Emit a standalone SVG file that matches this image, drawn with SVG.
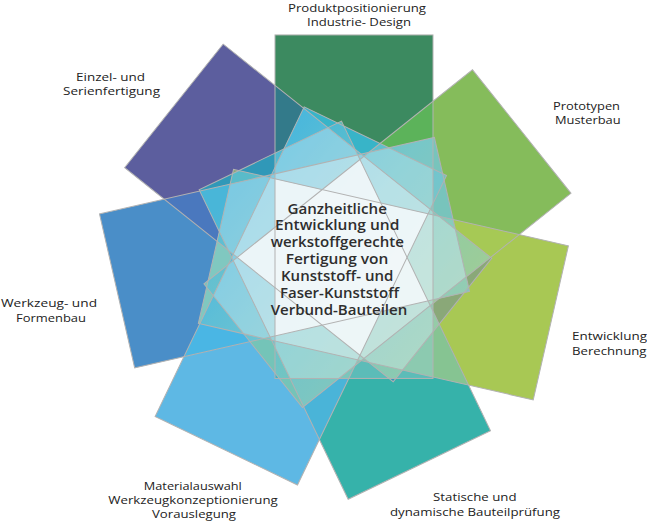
<svg xmlns="http://www.w3.org/2000/svg" width="647" height="521" viewBox="0 0 647 521">
<style>
.lbl{font-family:"Open Sans","Liberation Sans",sans-serif;font-size:11.5px;fill:#222;text-anchor:middle;}
.ctr{font-family:"Open Sans","Liberation Sans",sans-serif;font-size:13.5px;font-weight:600;fill:#2e2e2e;text-anchor:middle;}
.u{fill:#f4f9fb;}
.m{fill:#ffffff;}
.edge{fill:none;stroke:#b2b2b2;stroke-width:1;}
</style>
<defs>
<linearGradient id="hue" gradientUnits="userSpaceOnUse" x1="250" y1="170" x2="440" y2="330">
<stop offset="0" stop-color="#4ab8dc"/>
<stop offset="0.45" stop-color="#78c8cc"/>
<stop offset="1" stop-color="#9ccfae"/>
</linearGradient>
<rect id="r0" x="-62.6" y="-222.45" width="158" height="343.5" transform="translate(337.6 257.4)"/>
<rect id="r1" x="-62.6" y="-222.45" width="158" height="343.5" transform="translate(337.6 257.4) rotate(51.4286)"/>
<rect id="r2" x="-62.6" y="-222.45" width="158" height="343.5" transform="translate(337.6 257.4) rotate(102.8571)"/>
<rect id="r3" x="-62.6" y="-222.45" width="158" height="343.5" transform="translate(337.6 257.4) rotate(154.2857)"/>
<rect id="r4" x="-62.6" y="-222.45" width="158" height="343.5" transform="translate(337.6 257.4) rotate(205.7143)"/>
<rect id="r5" x="-62.6" y="-222.45" width="158" height="343.5" transform="translate(337.6 257.4) rotate(257.1429)"/>
<rect id="r6" x="-62.6" y="-222.45" width="158" height="343.5" transform="translate(337.6 257.4) rotate(308.5714)"/>
<clipPath id="c0"><use href="#r0"/></clipPath>
<clipPath id="c1"><use href="#r1"/></clipPath>
<clipPath id="c2"><use href="#r2"/></clipPath>
<clipPath id="c3"><use href="#r3"/></clipPath>
<clipPath id="c4"><use href="#r4"/></clipPath>
<clipPath id="c5"><use href="#r5"/></clipPath>
<clipPath id="c6"><use href="#r6"/></clipPath>
<mask id="m3" maskUnits="userSpaceOnUse" x="0" y="0" width="647" height="521">
<g clip-path="url(#c0)"><use href="#r2" class="m" clip-path="url(#c1)"/></g>
<g clip-path="url(#c0)"><use href="#r3" class="m" clip-path="url(#c1)"/></g>
<g clip-path="url(#c0)"><use href="#r4" class="m" clip-path="url(#c1)"/></g>
<g clip-path="url(#c0)"><use href="#r5" class="m" clip-path="url(#c1)"/></g>
<g clip-path="url(#c0)"><use href="#r6" class="m" clip-path="url(#c1)"/></g>
<g clip-path="url(#c0)"><use href="#r3" class="m" clip-path="url(#c2)"/></g>
<g clip-path="url(#c0)"><use href="#r4" class="m" clip-path="url(#c2)"/></g>
<g clip-path="url(#c0)"><use href="#r5" class="m" clip-path="url(#c2)"/></g>
<g clip-path="url(#c0)"><use href="#r6" class="m" clip-path="url(#c2)"/></g>
<g clip-path="url(#c0)"><use href="#r4" class="m" clip-path="url(#c3)"/></g>
<g clip-path="url(#c0)"><use href="#r5" class="m" clip-path="url(#c3)"/></g>
<g clip-path="url(#c0)"><use href="#r6" class="m" clip-path="url(#c3)"/></g>
<g clip-path="url(#c0)"><use href="#r5" class="m" clip-path="url(#c4)"/></g>
<g clip-path="url(#c0)"><use href="#r6" class="m" clip-path="url(#c4)"/></g>
<g clip-path="url(#c0)"><use href="#r6" class="m" clip-path="url(#c5)"/></g>
<g clip-path="url(#c1)"><use href="#r3" class="m" clip-path="url(#c2)"/></g>
<g clip-path="url(#c1)"><use href="#r4" class="m" clip-path="url(#c2)"/></g>
<g clip-path="url(#c1)"><use href="#r5" class="m" clip-path="url(#c2)"/></g>
<g clip-path="url(#c1)"><use href="#r6" class="m" clip-path="url(#c2)"/></g>
<g clip-path="url(#c1)"><use href="#r4" class="m" clip-path="url(#c3)"/></g>
<g clip-path="url(#c1)"><use href="#r5" class="m" clip-path="url(#c3)"/></g>
<g clip-path="url(#c1)"><use href="#r6" class="m" clip-path="url(#c3)"/></g>
<g clip-path="url(#c1)"><use href="#r5" class="m" clip-path="url(#c4)"/></g>
<g clip-path="url(#c1)"><use href="#r6" class="m" clip-path="url(#c4)"/></g>
<g clip-path="url(#c1)"><use href="#r6" class="m" clip-path="url(#c5)"/></g>
<g clip-path="url(#c2)"><use href="#r4" class="m" clip-path="url(#c3)"/></g>
<g clip-path="url(#c2)"><use href="#r5" class="m" clip-path="url(#c3)"/></g>
<g clip-path="url(#c2)"><use href="#r6" class="m" clip-path="url(#c3)"/></g>
<g clip-path="url(#c2)"><use href="#r5" class="m" clip-path="url(#c4)"/></g>
<g clip-path="url(#c2)"><use href="#r6" class="m" clip-path="url(#c4)"/></g>
<g clip-path="url(#c2)"><use href="#r6" class="m" clip-path="url(#c5)"/></g>
<g clip-path="url(#c3)"><use href="#r5" class="m" clip-path="url(#c4)"/></g>
<g clip-path="url(#c3)"><use href="#r6" class="m" clip-path="url(#c4)"/></g>
<g clip-path="url(#c3)"><use href="#r6" class="m" clip-path="url(#c5)"/></g>
<g clip-path="url(#c4)"><use href="#r6" class="m" clip-path="url(#c5)"/></g>
</mask>
</defs>
<rect width="647" height="521" fill="#ffffff"/>

<g id="n-produkt"><use href="#r0" fill="#3c8a60"/>
<text class="lbl" x="357" y="11.5" textLength="138" lengthAdjust="spacingAndGlyphs">Produktpositionierung</text>
<text class="lbl" x="359" y="25.5" textLength="104" lengthAdjust="spacingAndGlyphs">Industrie- Design</text></g>
<g id="n-prototypen"><use href="#r1" fill="#85bc5b"/>
<text class="lbl" x="586.5" y="109.5" textLength="67" lengthAdjust="spacingAndGlyphs">Prototypen</text>
<text class="lbl" x="587.8" y="123.5" textLength="65.6" lengthAdjust="spacingAndGlyphs">Musterbau</text></g>
<g id="n-entwicklung"><use href="#r2" fill="#a8c854"/>
<text class="lbl" x="572" y="340" textLength="75" lengthAdjust="spacingAndGlyphs" style="text-anchor:start">Entwicklung</text>
<text class="lbl" x="572" y="354.5" textLength="74.5" lengthAdjust="spacingAndGlyphs" style="text-anchor:start">Berechnung</text></g>
<g id="n-statische"><use href="#r3" fill="#36b2aa"/>
<text class="lbl" x="474.8" y="501" textLength="83.5" lengthAdjust="spacingAndGlyphs">Statische und</text>
<text class="lbl" x="475" y="515.5" textLength="170" lengthAdjust="spacingAndGlyphs">dynamische Bauteilprüfung</text></g>
<g id="n-material"><use href="#r4" fill="#5eb8e4"/>
<text class="lbl" x="192.8" y="489.5" textLength="98" lengthAdjust="spacingAndGlyphs">Materialauswahl</text>
<text class="lbl" x="193" y="504" textLength="169.5" lengthAdjust="spacingAndGlyphs">Werkzeugkonzeptionierung</text>
<text class="lbl" x="194" y="518" textLength="84" lengthAdjust="spacingAndGlyphs">Vorauslegung</text></g>
<g id="n-werkzeug"><use href="#r5" fill="#4a8ec8"/>
<text class="lbl" x="49" y="307" textLength="96" lengthAdjust="spacingAndGlyphs">Werkzeug- und</text>
<text class="lbl" x="51" y="321.5" textLength="70" lengthAdjust="spacingAndGlyphs">Formenbau</text></g>
<g id="n-einzel"><use href="#r6" fill="#5c5e9e"/>
<text class="lbl" x="110.5" y="80.5" textLength="69" lengthAdjust="spacingAndGlyphs">Einzel- und</text>
<text class="lbl" x="111.5" y="95" textLength="97" lengthAdjust="spacingAndGlyphs">Serienfertigung</text></g>

<g id="overlaps">
<g clip-path="url(#c0)"><use href="#r6" fill="#337a8a"/></g>
<g clip-path="url(#c5)"><use href="#r6" fill="#4a78be"/></g>
<g clip-path="url(#c2)"><use href="#r6" fill="#8aa878"/></g>
<g clip-path="url(#c1)"><use href="#r6" fill="#6cbcc0"/></g>
<g clip-path="url(#c0)"><use href="#r1" fill="#5cb35a"/></g>
<g clip-path="url(#c1)"><use href="#r2" fill="#a6c955"/></g>
<g clip-path="url(#c3)"><use href="#r6" fill="#3098b8"/></g>
<g clip-path="url(#c0)"><use href="#r2" fill="#6cc0a8"/></g>
<g clip-path="url(#c0)"><use href="#r5" fill="#48b0d0"/></g>
<g clip-path="url(#c2)"><use href="#r3" fill="#86c492"/></g>
<g clip-path="url(#c1)"><use href="#r3" fill="#62bea8"/></g>
<g clip-path="url(#c2)"><use href="#r4" fill="#7cc8b4"/></g>
<g clip-path="url(#c1)"><use href="#r4" fill="#74c4b8"/></g>
<g clip-path="url(#c1)"><use href="#r5" fill="#78c4bc"/></g>
<g clip-path="url(#c2)"><use href="#r5" fill="#80c8c0"/></g>
<g clip-path="url(#c3)"><use href="#r5" fill="#48b0cc"/></g>
<g clip-path="url(#c0)"><use href="#r3" fill="#5cbcb8"/></g>
<g clip-path="url(#c3)"><use href="#r4" fill="#4ab4d8"/></g>
<g clip-path="url(#c4)"><use href="#r5" fill="#4ab6e4"/></g>
<g clip-path="url(#c0)"><use href="#r4" fill="#38b4c8"/></g>
<g clip-path="url(#c4)"><use href="#r6" fill="#4ab8dc"/></g>
</g>

<rect id="tint3" width="647" height="521" fill="url(#hue)" mask="url(#m3)" opacity="0.75"/>

<g id="lighten4" opacity="0.3">
<g clip-path="url(#c0)"><g clip-path="url(#c1)"><use href="#r3" class="u" clip-path="url(#c2)"/></g></g>
<g clip-path="url(#c0)"><g clip-path="url(#c1)"><use href="#r4" class="u" clip-path="url(#c2)"/></g></g>
<g clip-path="url(#c0)"><g clip-path="url(#c1)"><use href="#r5" class="u" clip-path="url(#c2)"/></g></g>
<g clip-path="url(#c0)"><g clip-path="url(#c1)"><use href="#r6" class="u" clip-path="url(#c2)"/></g></g>
<g clip-path="url(#c0)"><g clip-path="url(#c1)"><use href="#r4" class="u" clip-path="url(#c3)"/></g></g>
<g clip-path="url(#c0)"><g clip-path="url(#c1)"><use href="#r5" class="u" clip-path="url(#c3)"/></g></g>
<g clip-path="url(#c0)"><g clip-path="url(#c1)"><use href="#r6" class="u" clip-path="url(#c3)"/></g></g>
<g clip-path="url(#c0)"><g clip-path="url(#c1)"><use href="#r5" class="u" clip-path="url(#c4)"/></g></g>
<g clip-path="url(#c0)"><g clip-path="url(#c1)"><use href="#r6" class="u" clip-path="url(#c4)"/></g></g>
<g clip-path="url(#c0)"><g clip-path="url(#c1)"><use href="#r6" class="u" clip-path="url(#c5)"/></g></g>
<g clip-path="url(#c0)"><g clip-path="url(#c2)"><use href="#r4" class="u" clip-path="url(#c3)"/></g></g>
<g clip-path="url(#c0)"><g clip-path="url(#c2)"><use href="#r5" class="u" clip-path="url(#c3)"/></g></g>
<g clip-path="url(#c0)"><g clip-path="url(#c2)"><use href="#r6" class="u" clip-path="url(#c3)"/></g></g>
<g clip-path="url(#c0)"><g clip-path="url(#c2)"><use href="#r5" class="u" clip-path="url(#c4)"/></g></g>
<g clip-path="url(#c0)"><g clip-path="url(#c2)"><use href="#r6" class="u" clip-path="url(#c4)"/></g></g>
<g clip-path="url(#c0)"><g clip-path="url(#c2)"><use href="#r6" class="u" clip-path="url(#c5)"/></g></g>
<g clip-path="url(#c0)"><g clip-path="url(#c3)"><use href="#r5" class="u" clip-path="url(#c4)"/></g></g>
<g clip-path="url(#c0)"><g clip-path="url(#c3)"><use href="#r6" class="u" clip-path="url(#c4)"/></g></g>
<g clip-path="url(#c0)"><g clip-path="url(#c3)"><use href="#r6" class="u" clip-path="url(#c5)"/></g></g>
<g clip-path="url(#c0)"><g clip-path="url(#c4)"><use href="#r6" class="u" clip-path="url(#c5)"/></g></g>
<g clip-path="url(#c1)"><g clip-path="url(#c2)"><use href="#r4" class="u" clip-path="url(#c3)"/></g></g>
<g clip-path="url(#c1)"><g clip-path="url(#c2)"><use href="#r5" class="u" clip-path="url(#c3)"/></g></g>
<g clip-path="url(#c1)"><g clip-path="url(#c2)"><use href="#r6" class="u" clip-path="url(#c3)"/></g></g>
<g clip-path="url(#c1)"><g clip-path="url(#c2)"><use href="#r5" class="u" clip-path="url(#c4)"/></g></g>
<g clip-path="url(#c1)"><g clip-path="url(#c2)"><use href="#r6" class="u" clip-path="url(#c4)"/></g></g>
<g clip-path="url(#c1)"><g clip-path="url(#c2)"><use href="#r6" class="u" clip-path="url(#c5)"/></g></g>
<g clip-path="url(#c1)"><g clip-path="url(#c3)"><use href="#r5" class="u" clip-path="url(#c4)"/></g></g>
<g clip-path="url(#c1)"><g clip-path="url(#c3)"><use href="#r6" class="u" clip-path="url(#c4)"/></g></g>
<g clip-path="url(#c1)"><g clip-path="url(#c3)"><use href="#r6" class="u" clip-path="url(#c5)"/></g></g>
<g clip-path="url(#c1)"><g clip-path="url(#c4)"><use href="#r6" class="u" clip-path="url(#c5)"/></g></g>
<g clip-path="url(#c2)"><g clip-path="url(#c3)"><use href="#r5" class="u" clip-path="url(#c4)"/></g></g>
<g clip-path="url(#c2)"><g clip-path="url(#c3)"><use href="#r6" class="u" clip-path="url(#c4)"/></g></g>
<g clip-path="url(#c2)"><g clip-path="url(#c3)"><use href="#r6" class="u" clip-path="url(#c5)"/></g></g>
<g clip-path="url(#c2)"><g clip-path="url(#c4)"><use href="#r6" class="u" clip-path="url(#c5)"/></g></g>
<g clip-path="url(#c3)"><g clip-path="url(#c4)"><use href="#r6" class="u" clip-path="url(#c5)"/></g></g>
</g>

<g id="lighten5" opacity="0.35">
<g clip-path="url(#c0)"><g clip-path="url(#c1)"><g clip-path="url(#c2)"><use href="#r4" class="u" clip-path="url(#c3)"/></g></g></g>
<g clip-path="url(#c0)"><g clip-path="url(#c1)"><g clip-path="url(#c2)"><use href="#r5" class="u" clip-path="url(#c3)"/></g></g></g>
<g clip-path="url(#c0)"><g clip-path="url(#c1)"><g clip-path="url(#c2)"><use href="#r6" class="u" clip-path="url(#c3)"/></g></g></g>
<g clip-path="url(#c0)"><g clip-path="url(#c1)"><g clip-path="url(#c2)"><use href="#r5" class="u" clip-path="url(#c4)"/></g></g></g>
<g clip-path="url(#c0)"><g clip-path="url(#c1)"><g clip-path="url(#c2)"><use href="#r6" class="u" clip-path="url(#c4)"/></g></g></g>
<g clip-path="url(#c0)"><g clip-path="url(#c1)"><g clip-path="url(#c2)"><use href="#r6" class="u" clip-path="url(#c5)"/></g></g></g>
<g clip-path="url(#c0)"><g clip-path="url(#c1)"><g clip-path="url(#c3)"><use href="#r5" class="u" clip-path="url(#c4)"/></g></g></g>
<g clip-path="url(#c0)"><g clip-path="url(#c1)"><g clip-path="url(#c3)"><use href="#r6" class="u" clip-path="url(#c4)"/></g></g></g>
<g clip-path="url(#c0)"><g clip-path="url(#c1)"><g clip-path="url(#c3)"><use href="#r6" class="u" clip-path="url(#c5)"/></g></g></g>
<g clip-path="url(#c0)"><g clip-path="url(#c1)"><g clip-path="url(#c4)"><use href="#r6" class="u" clip-path="url(#c5)"/></g></g></g>
<g clip-path="url(#c0)"><g clip-path="url(#c2)"><g clip-path="url(#c3)"><use href="#r5" class="u" clip-path="url(#c4)"/></g></g></g>
<g clip-path="url(#c0)"><g clip-path="url(#c2)"><g clip-path="url(#c3)"><use href="#r6" class="u" clip-path="url(#c4)"/></g></g></g>
<g clip-path="url(#c0)"><g clip-path="url(#c2)"><g clip-path="url(#c3)"><use href="#r6" class="u" clip-path="url(#c5)"/></g></g></g>
<g clip-path="url(#c0)"><g clip-path="url(#c2)"><g clip-path="url(#c4)"><use href="#r6" class="u" clip-path="url(#c5)"/></g></g></g>
<g clip-path="url(#c0)"><g clip-path="url(#c3)"><g clip-path="url(#c4)"><use href="#r6" class="u" clip-path="url(#c5)"/></g></g></g>
<g clip-path="url(#c1)"><g clip-path="url(#c2)"><g clip-path="url(#c3)"><use href="#r5" class="u" clip-path="url(#c4)"/></g></g></g>
<g clip-path="url(#c1)"><g clip-path="url(#c2)"><g clip-path="url(#c3)"><use href="#r6" class="u" clip-path="url(#c4)"/></g></g></g>
<g clip-path="url(#c1)"><g clip-path="url(#c2)"><g clip-path="url(#c3)"><use href="#r6" class="u" clip-path="url(#c5)"/></g></g></g>
<g clip-path="url(#c1)"><g clip-path="url(#c2)"><g clip-path="url(#c4)"><use href="#r6" class="u" clip-path="url(#c5)"/></g></g></g>
<g clip-path="url(#c1)"><g clip-path="url(#c3)"><g clip-path="url(#c4)"><use href="#r6" class="u" clip-path="url(#c5)"/></g></g></g>
<g clip-path="url(#c2)"><g clip-path="url(#c3)"><g clip-path="url(#c4)"><use href="#r6" class="u" clip-path="url(#c5)"/></g></g></g>
</g>

<g id="lighten6" opacity="0.88">
<g clip-path="url(#c0)"><g clip-path="url(#c1)"><g clip-path="url(#c2)"><g clip-path="url(#c3)"><use href="#r5" class="u" clip-path="url(#c4)"/></g></g></g></g>
<g clip-path="url(#c0)"><g clip-path="url(#c1)"><g clip-path="url(#c2)"><g clip-path="url(#c3)"><use href="#r6" class="u" clip-path="url(#c4)"/></g></g></g></g>
<g clip-path="url(#c0)"><g clip-path="url(#c1)"><g clip-path="url(#c2)"><g clip-path="url(#c3)"><use href="#r6" class="u" clip-path="url(#c5)"/></g></g></g></g>
<g clip-path="url(#c0)"><g clip-path="url(#c1)"><g clip-path="url(#c2)"><g clip-path="url(#c4)"><use href="#r6" class="u" clip-path="url(#c5)"/></g></g></g></g>
<g clip-path="url(#c0)"><g clip-path="url(#c1)"><g clip-path="url(#c3)"><g clip-path="url(#c4)"><use href="#r6" class="u" clip-path="url(#c5)"/></g></g></g></g>
<g clip-path="url(#c0)"><g clip-path="url(#c2)"><g clip-path="url(#c3)"><g clip-path="url(#c4)"><use href="#r6" class="u" clip-path="url(#c5)"/></g></g></g></g>
<g clip-path="url(#c1)"><g clip-path="url(#c2)"><g clip-path="url(#c3)"><g clip-path="url(#c4)"><use href="#r6" class="u" clip-path="url(#c5)"/></g></g></g></g>
</g>

<g id="lighten7" opacity="0.6">
<g clip-path="url(#c0)"><g clip-path="url(#c1)"><g clip-path="url(#c2)"><g clip-path="url(#c3)"><g clip-path="url(#c4)"><use href="#r6" class="u" clip-path="url(#c5)"/></g></g></g></g></g>
</g>

<g id="outlines">
<use href="#r0" class="edge"/>
<use href="#r1" class="edge"/>
<use href="#r2" class="edge"/>
<use href="#r3" class="edge"/>
<use href="#r4" class="edge"/>
<use href="#r5" class="edge"/>
<use href="#r6" class="edge"/>
</g>

<g id="n-center">
<text class="ctr" x="337.2" y="213.5" textLength="99.4" lengthAdjust="spacingAndGlyphs">Ganzheitliche</text>
<text class="ctr" x="337.2" y="230.4" textLength="124.3" lengthAdjust="spacingAndGlyphs">Entwicklung und</text>
<text class="ctr" x="337.3" y="247.3" textLength="133.3" lengthAdjust="spacingAndGlyphs">werkstoffgerechte</text>
<text class="ctr" x="337" y="264.2" textLength="102.7" lengthAdjust="spacingAndGlyphs">Fertigung von</text>
<text class="ctr" x="337.2" y="281.1" textLength="112.3" lengthAdjust="spacingAndGlyphs">Kunststoff- und</text>
<text class="ctr" x="339.5" y="298" textLength="119" lengthAdjust="spacingAndGlyphs">Faser-Kunststoff</text>
<text class="ctr" x="339" y="314.9" textLength="136.6" lengthAdjust="spacingAndGlyphs">Verbund-Bauteilen</text>
</g>
</svg>
